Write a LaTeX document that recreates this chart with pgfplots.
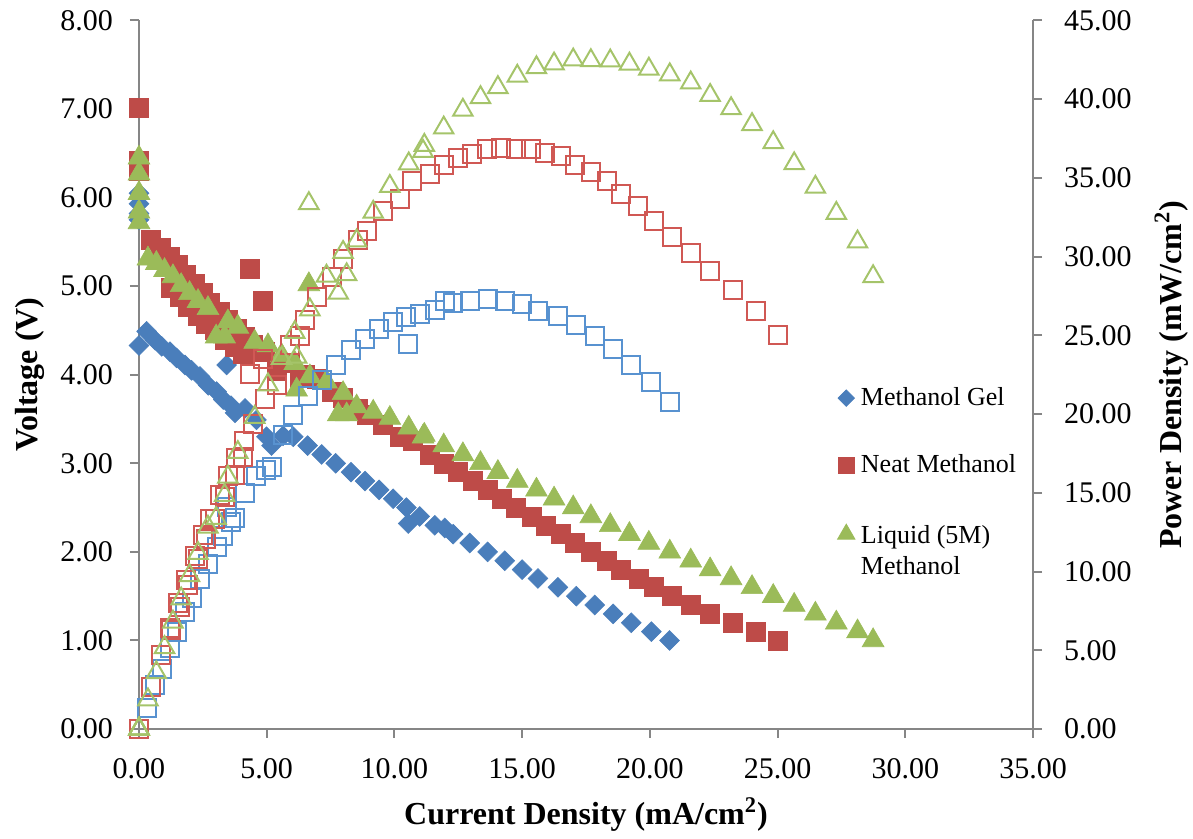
\documentclass[border=0pt]{standalone}
\usepackage{fontspec}
\setmainfont{Liberation Serif}
\usepackage{pgfplots}
\pgfplotsset{compat=1.18}
\usepackage{pgfplotstable}

\definecolor{gelblue}{RGB}{74,126,187}
\definecolor{neatred}{RGB}{190,75,72}
\definecolor{liqgreen}{RGB}{155,187,89}
\definecolor{gelblueL}{RGB}{88,146,208}
\definecolor{neatredL}{RGB}{208,88,84}
\definecolor{liqgreenL}{RGB}{165,196,106}
\definecolor{axisgray}{RGB}{134,134,134}

% Methanol Gel: I (mA/cm2), V (V), P (mW/cm2)
\pgfplotstableread{
I V P
0 6.05 0
0 5.93 0
0 5.82 0
0 5.75 0
0 4.33 0
0.30 4.49 1.35
0.63 4.39 2.77
0.89 4.32 3.84
1.21 4.26 5.15
1.47 4.19 6.16
1.80 4.11 7.40
2.06 4.05 8.34
2.39 3.98 9.51
2.71 3.88 10.51
3.04 3.81 11.58
3.30 3.72 12.28
3.43 4.11 14.10
3.60 3.65 13.14
3.76 3.57 13.42
4.15 3.62 15.02
4.60 3.49 16.05
4.99 3.30 16.47
5.19 3.20 16.61
5.64 3.31 18.67
6.04 3.30 19.93
6.60 3.20 21.12
7.15 3.10 22.17
7.70 3.00 23.10
8.30 2.90 24.07
8.85 2.80 24.78
9.40 2.70 25.38
9.95 2.60 25.87
10.47 2.50 26.18
10.54 2.32 24.45
10.99 2.40 26.38
11.58 2.30 26.63
11.97 2.27 27.17
12.30 2.20 27.06
12.95 2.10 27.20
13.65 2.00 27.30
14.32 1.90 27.21
15.00 1.80 27.00
15.62 1.70 26.55
16.40 1.60 26.24
17.12 1.50 25.68
17.84 1.40 24.98
18.56 1.30 24.13
19.27 1.20 23.12
20.06 1.10 22.07
20.77 1.00 20.77
}\gel

% Neat Methanol
\pgfplotstableread{
I V P
0 7.01 0
0 6.42 0
0 6.30 0
0.48 5.52 2.65
0.87 5.43 4.72
1.20 5.33 6.40
1.26 4.98 6.27
1.53 5.24 8.02
1.59 4.88 7.76
1.85 5.13 9.49
1.92 4.77 9.16
2.18 5.03 10.97
2.31 4.67 10.79
2.50 4.92 12.30
2.63 4.58 12.05
2.77 4.81 13.32
2.96 4.51 13.35
3.16 4.71 14.88
3.35 4.39 14.71
3.48 4.62 16.08
3.74 4.32 16.16
3.81 4.52 17.22
4.07 4.24 17.26
4.13 4.43 18.30
4.33 5.20 22.52
4.46 4.34 19.36
4.85 4.84 23.47
4.92 4.26 20.96
5.39 4.05 21.83
5.90 4.13 24.37
6.30 3.96 24.95
6.49 4.00 25.96
6.95 3.95 27.45
7.54 3.81 28.73
7.99 3.74 29.88
8.58 3.62 31.06
8.91 3.55 31.63
9.56 3.44 32.89
10.21 3.30 33.69
10.70 3.25 34.78
11.38 3.10 35.28
11.93 3.00 35.79
12.50 2.90 36.25
13.05 2.80 36.54
13.64 2.70 36.83
14.19 2.60 36.89
14.74 2.50 36.85
15.36 2.40 36.86
15.91 2.30 36.59
16.53 2.20 36.37
17.07 2.10 35.85
17.69 2.00 35.38
18.31 1.90 34.79
18.86 1.80 33.95
19.55 1.70 33.24
20.17 1.60 32.27
20.85 1.50 31.28
21.60 1.40 30.24
22.36 1.30 29.07
23.25 1.20 27.90
24.14 1.10 26.55
25.01 1.00 25.01
}\neat

% Liquid (5M) Methanol
\pgfplotstableread{
I V P
0 6.45 0
0 6.27 0
0 6.05 0
0 5.84 0
0 5.72 0
0.35 5.31 1.86
0.68 5.26 3.58
1.00 5.18 5.18
1.33 5.11 6.80
1.65 5.01 8.27
1.98 4.92 9.74
2.31 4.83 11.16
2.70 4.75 12.83
3.02 4.43 13.38
3.35 4.43 14.84
3.48 4.60 16.01
3.87 4.54 17.57
4.53 4.37 19.80
5.05 4.33 21.87
5.58 4.22 23.55
6.10 4.13 25.19
6.17 3.83 23.63
6.65 5.02 33.38
6.69 3.98 26.63
7.34 3.92 28.77
7.80 3.55 27.69
7.99 3.79 30.28
8.13 3.55 28.86
8.52 3.64 31.01
9.17 3.58 32.83
9.82 3.51 34.47
10.56 3.40 35.90
11.12 3.30 36.70
11.17 3.32 37.08
11.93 3.20 38.18
12.68 3.10 39.31
13.37 3.00 40.11
14.05 2.90 40.75
14.81 2.80 41.47
15.56 2.70 42.01
16.25 2.60 42.25
17.00 2.50 42.50
17.69 2.40 42.46
18.45 2.30 42.44
19.20 2.20 42.24
19.96 2.10 41.92
20.78 2.00 41.56
21.60 1.90 41.04
22.36 1.80 40.25
23.18 1.70 39.41
24.00 1.60 38.40
24.83 1.50 37.25
25.65 1.40 35.91
26.48 1.30 34.42
27.30 1.20 32.76
28.13 1.10 30.94
28.74 1.00 28.74
}\liq

\tikzset{titlefont/.style={font=\bfseries\fontsize{16}{19}\selectfont}}

\pgfplotsset{
  common/.style={
    width=447pt, height=354.25pt, scale only axis,
    at={(0,0)}, anchor=south west,
    xmin=0, xmax=35,
    axis line style={draw=axisgray, line width=1pt},
    tick style={draw=axisgray, line width=1pt},
    major tick length=4.5pt,
    tick align=outside,
    minor tick num=0,
    tick label style={font=\fontsize{15}{18}\selectfont,
      /pgf/number format/fixed,
      /pgf/number format/fixed zerofill,
      /pgf/number format/precision=2,
      /pgf/number format/assume math mode=true},
    clip=false,
  },
}

\begin{document}
\begin{tikzpicture}
\begin{axis}[common,
  ymin=0, ymax=8,
  axis x line*=bottom, axis y line*=left,
  xtick={0,5,...,35}, ytick={0,1,...,8},
  xticklabel style={yshift=-6.5pt},
  yticklabel style={xshift=-5pt},
  xlabel={Current Density (mA/cm\textsuperscript{2})},
  ylabel={Voltage (V)},
  xlabel style={titlefont, at={(axis description cs:0.5,-0.121)}, anchor=center},
  ylabel style={titlefont, at={(axis description cs:-0.122,0.5)}, anchor=center},
  legend image code/.code={\draw[#1] plot coordinates {(0pt,0pt)};},
  legend cell align=left,
  legend style={at={(axis description cs:0.781,0.488)}, anchor=north west,
    draw=none, fill=none, inner sep=0pt,
    font=\fontsize{13}{15.6}\selectfont,
    row sep=19pt, column sep=1pt},
]
\addplot[only marks, mark=square*, mark size=3.5pt,
  mark options={rotate=45, fill=gelblue, draw=gelblue, line width=0.3pt}, forget plot]
  table[x=I, y=V]{\gel};
\addplot[only marks, mark=square*, mark size=4.75pt,
  mark options={fill=neatred, draw=neatred, line width=0.3pt}, forget plot]
  table[x=I, y=V]{\neat};
\addplot[only marks, mark=triangle*, mark size=6.3pt,
  mark options={fill=liqgreen, draw=liqgreen, line width=0.3pt}, forget plot]
  table[x=I, y=V]{\liq};

\addlegendimage{only marks, mark=square*, mark size=2.9pt,
  mark options={rotate=45, fill=gelblue, draw=gelblue}}
\addlegendentry{Methanol Gel}
\addlegendimage{only marks, mark=square*, mark size=4pt,
  mark options={fill=neatred, draw=neatred}}
\addlegendentry{Neat Methanol}
\addlegendimage{only marks, mark=triangle*, mark size=5pt,
  mark options={fill=liqgreen, draw=liqgreen}}
\addlegendentry{\begin{tabular}[t]{@{}l@{}}Liquid (5M)\\Methanol\end{tabular}}
\end{axis}

\begin{axis}[common,
  ymin=0, ymax=45,
  axis x line=none, axis y line*=right,
  ytick={0,5,...,45},
  yticklabel style={xshift=7.5pt},
  ylabel={Power Density (mW/cm\textsuperscript{2})},
  ylabel style={titlefont, at={(axis description cs:1.155,0.5)}, anchor=center},
]
\addplot[only marks, mark=square, mark size=4.5pt,
  mark options={draw=gelblueL, line width=1pt}]
  table[x=I, y=P]{\gel};
\addplot[only marks, mark=square, mark size=4.5pt,
  mark options={draw=neatredL, line width=1pt}]
  table[x=I, y=P]{\neat};
\addplot[only marks, mark=triangle, mark size=5.6pt,
  mark options={draw=liqgreenL, line width=1pt}]
  table[x=I, y=P]{\liq};
\end{axis}

\pgfresetboundingbox
\path[use as bounding box] (-69.5pt,-55pt) rectangle (527pt,364.5pt);
\end{tikzpicture}
\end{document}
